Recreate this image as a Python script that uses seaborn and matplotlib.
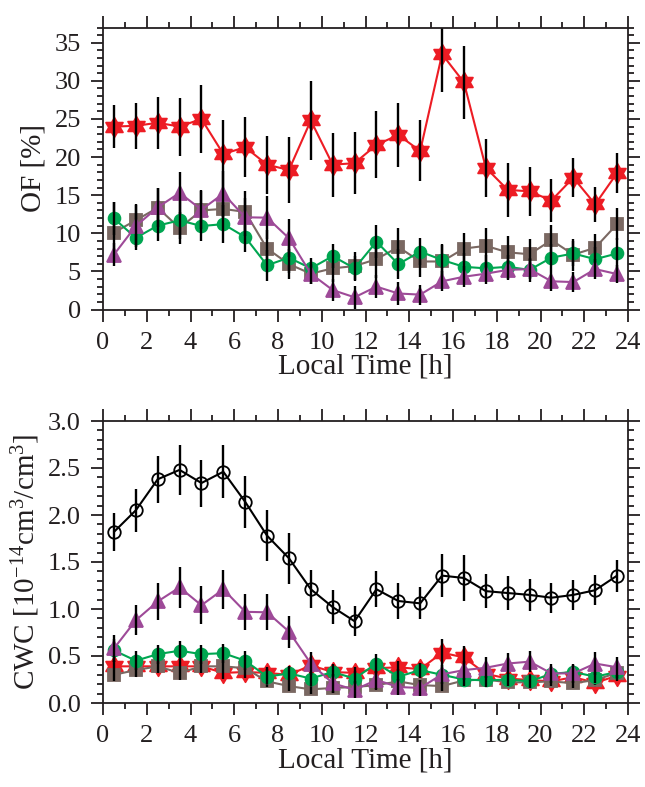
import numpy as np
import pandas as pd
import matplotlib
matplotlib.use("Agg")
import matplotlib.pyplot as plt
from matplotlib.ticker import MultipleLocator, FormatStrFormatter
from matplotlib.path import Path
import seaborn as sns

# ---------------- data ----------------
hours = [0.5, 1.5, 2.5, 3.5, 4.5, 5.5, 6.5, 7.5, 8.5, 9.5, 10.5, 11.5,
         12.5, 13.5, 14.5, 15.5, 16.5, 17.5, 18.5, 19.5, 20.5, 21.5, 22.5, 23.5]

# Top panel: occurrence frequency OF [%]
of_red = [24.0, 24.1, 24.5, 24.0, 25.0, 20.4, 21.3, 19.0, 18.3, 24.8, 19.0, 19.2,
          21.6, 22.9, 20.8, 33.5, 29.8, 18.6, 15.7, 15.5, 14.3, 17.3, 13.8, 17.9]
of_red_err = [2.8, 3.0, 3.4, 3.8, 4.5, 4.5, 3.9, 3.8, 4.3, 5.2, 4.2, 4.1,
              4.4, 4.2, 4.0, 5.0, 4.8, 3.8, 3.5, 3.2, 2.8, 2.6, 2.3, 2.6]
of_brown = [10.1, 11.7, 13.35, 10.7, 13.0, 13.2, 12.8, 8.0, 5.95, 4.7, 5.4, 5.7,
            6.6, 8.2, 6.3, 6.3, 8.0, 8.35, 7.5, 7.25, 9.1, 7.2, 8.1, 11.2]
of_brown_err = [4.0, 2.1, 2.6, 2.1, 2.6, 2.8, 2.7, 2.4, 2.0, 1.3, 1.8, 1.8,
                2.5, 2.5, 2.0, 2.3, 2.0, 2.3, 2.1, 2.0, 2.0, 2.1, 1.8, 2.1]
of_green = [11.95, 9.4, 11.0, 11.7, 10.95, 11.2, 9.5, 5.8, 6.8, 5.4, 7.0, 5.4,
            8.9, 5.95, 7.6, 6.5, 5.6, 5.4, 5.6, 5.2, 6.8, 7.35, 6.6, 7.35]
of_green_err = [2.2, 1.6, 2.0, 2.5, 2.0, 2.5, 2.0, 2.0, 2.0, 1.4, 1.6, 1.6,
                2.2, 2.0, 1.8, 2.0, 1.8, 1.8, 1.6, 1.6, 1.8, 1.6, 1.6, 2.0]
of_purple = [7.2, 10.95, 13.4, 15.3, 13.1, 15.2, 12.1, 12.05, 9.35, 4.7, 2.55, 1.6,
             3.0, 2.1, 1.95, 3.7, 4.3, 4.7, 5.2, 5.3, 3.7, 3.6, 5.3, 4.65]
of_purple_err = [1.5, 2.8, 2.6, 2.8, 2.6, 3.0, 2.5, 2.8, 2.5, 1.3, 1.5, 1.5,
                 1.5, 1.5, 1.3, 1.3, 1.4, 1.4, 1.3, 1.3, 1.3, 1.3, 1.3, 1.2]

# Bottom panel: cloud water content CWC
cwc_black = [1.82, 2.05, 2.38, 2.48, 2.34, 2.46, 2.14, 1.78, 1.54, 1.21, 1.02, 0.87,
             1.21, 1.085, 1.06, 1.355, 1.33, 1.19, 1.17, 1.15, 1.12, 1.15, 1.2, 1.355]
cwc_black_err = [0.2, 0.23, 0.25, 0.27, 0.25, 0.28, 0.28, 0.27, 0.27, 0.2, 0.18, 0.16,
                 0.19, 0.19, 0.17, 0.23, 0.24, 0.18, 0.18, 0.17, 0.16, 0.16, 0.16, 0.17]
cwc_purple = [0.58, 0.88, 1.08, 1.23, 1.04, 1.21, 0.97, 0.965, 0.76, 0.42, 0.21, 0.14,
              0.245, 0.17, 0.16, 0.305, 0.35, 0.375, 0.42, 0.44, 0.315, 0.315, 0.42, 0.38]
cwc_purple_err = [0.14, 0.16, 0.2, 0.22, 0.2, 0.21, 0.19, 0.19, 0.17, 0.12, 0.1, 0.09,
                  0.1, 0.09, 0.09, 0.1, 0.1, 0.11, 0.11, 0.11, 0.1, 0.1, 0.12, 0.11]
cwc_green = [0.56, 0.45, 0.52, 0.556, 0.52, 0.53, 0.45, 0.28, 0.315, 0.26, 0.33, 0.26,
             0.42, 0.28, 0.35, 0.30, 0.25, 0.24, 0.25, 0.23, 0.31, 0.33, 0.28, 0.33]
cwc_green_err = [0.12, 0.1, 0.1, 0.1, 0.1, 0.1, 0.1, 0.08, 0.08, 0.08, 0.08, 0.08,
                 0.1, 0.08, 0.08, 0.08, 0.07, 0.07, 0.07, 0.07, 0.07, 0.07, 0.07, 0.08]
cwc_red = [0.39, 0.39, 0.39, 0.39, 0.39, 0.32, 0.33, 0.32, 0.30, 0.40, 0.33, 0.32,
           0.37, 0.38, 0.36, 0.535, 0.485, 0.31, 0.26, 0.245, 0.23, 0.275, 0.215, 0.29]
cwc_red_err = [0.06, 0.06, 0.07, 0.07, 0.07, 0.06, 0.06, 0.06, 0.06, 0.08, 0.06, 0.06,
               0.07, 0.07, 0.07, 0.15, 0.12, 0.07, 0.06, 0.06, 0.05, 0.06, 0.05, 0.06]
cwc_brown = [0.30, 0.35, 0.39, 0.32, 0.39, 0.39, 0.37, 0.23, 0.18, 0.145, 0.16, 0.17,
             0.19, 0.23, 0.19, 0.18, 0.24, 0.25, 0.22, 0.22, 0.23, 0.21, 0.245, 0.32]
cwc_brown_err = [0.07, 0.07, 0.07, 0.07, 0.07, 0.07, 0.07, 0.06, 0.05, 0.05, 0.05, 0.05,
                 0.05, 0.05, 0.05, 0.05, 0.05, 0.05, 0.05, 0.05, 0.05, 0.05, 0.05, 0.06]

xticks = [0, 2, 4, 6, 8, 10, 12, 14, 16, 18, 20, 22, 24]
of_yticks = [0, 5, 10, 15, 20, 25, 30, 35]
cwc_yticks = [0.0, 0.5, 1.0, 1.5, 2.0, 2.5, 3.0]

# ---------------- style ----------------
RED = "#ED1C24"
GREEN = "#00A651"
BROWN = "#7A6862"
PURPLE = "#9E4A98"
TXT = "#231F20"

sns.set_theme(style="ticks")
plt.rcParams["font.family"] = ["Liberation Serif", "DejaVu Serif"]
plt.rcParams["mathtext.fontset"] = "custom"
plt.rcParams["mathtext.rm"] = "Liberation Serif"
plt.rcParams["mathtext.it"] = "Liberation Serif:italic"
plt.rcParams["text.color"] = TXT
plt.rcParams["axes.labelcolor"] = TXT
plt.rcParams["xtick.color"] = TXT
plt.rcParams["ytick.color"] = TXT
plt.rcParams["axes.edgecolor"] = TXT

TICK_FS = 19
LAB_FS = 21
W, H = 645, 787
fig = plt.figure(figsize=(W / 100, H / 100), dpi=100)
L = 103 / W
AW = (628 - 103) / W
AH = 282 / H
ax1 = fig.add_axes([L, 1 - 309.5 / H, AW, AH])
ax2 = fig.add_axes([L, 1 - 703 / H, AW, AH])

# six-pointed star (hexagram) marker
_ang = np.pi / 2 + np.arange(12) * np.pi / 6
_rad = np.where(np.arange(12) % 2 == 0, 1.0, 1 / np.sqrt(3))
_verts = np.column_stack([_rad * np.cos(_ang), _rad * np.sin(_ang)])
_verts = np.vstack([_verts, _verts[:1]])
hexagram = Path(_verts, [Path.MOVETO] + [Path.LINETO] * 11 + [Path.CLOSEPOLY])


def series(ax, y, err, color, marker, ms, mfc=None, mec=None, z=2):
    sns.lineplot(x=hours, y=y, ax=ax, color=color, marker=marker, markersize=ms,
                 markerfacecolor=mfc if mfc is not None else color,
                 markeredgecolor=mec if mec is not None else color,
                 markeredgewidth=1.3, linewidth=1.5, zorder=z, legend=False)
    ax.errorbar(hours, y, yerr=err, fmt="none", ecolor="black", elinewidth=1.7,
                capsize=0, zorder=z + 0.5)


# Top panel
series(ax1, of_red, of_red_err, RED, hexagram, 14, z=2)
series(ax1, of_brown, of_brown_err, BROWN, "s", 8.5, z=3)
series(ax1, of_green, of_green_err, GREEN, "o", 8.5, z=4)
series(ax1, of_purple, of_purple_err, PURPLE, "^", 10, z=5)

# Bottom panel
series(ax2, cwc_red, cwc_red_err, RED, hexagram, 14, z=2)
series(ax2, cwc_brown, cwc_brown_err, BROWN, "s", 8.5, z=3)
series(ax2, cwc_green, cwc_green_err, GREEN, "o", 8.5, z=4)
series(ax2, cwc_purple, cwc_purple_err, PURPLE, "^", 10, z=5)
series(ax2, cwc_black, cwc_black_err, "black", "o", 9, mfc="none", mec="black", z=6)

for ax in (ax1, ax2):
    ax.set_xlim(0, 24)
    ax.set_xticks(xticks)
    ax.xaxis.set_minor_locator(MultipleLocator(1))
    ax.tick_params(which="both", direction="out", top=True, right=True,
                   labelsize=TICK_FS, width=1.3, colors=TXT)
    ax.tick_params(which="major", length=8.4, pad=7.5)
    ax.tick_params(which="minor", length=4.2)
    for s in ax.spines.values():
        s.set_linewidth(1.3)
        s.set_visible(True)
    ax.set_xlabel("Local Time [h]", fontsize=LAB_FS, labelpad=0)

ax1.set_ylim(0, 37)
ax1.set_yticks(of_yticks)
ax1.yaxis.set_minor_locator(MultipleLocator(1))
ax1.set_ylabel("OF [%]", fontsize=LAB_FS, labelpad=6)

ax2.set_ylim(0, 3.0)
ax2.set_yticks(cwc_yticks)
ax2.yaxis.set_major_formatter(FormatStrFormatter("%.1f"))
ax2.yaxis.set_minor_locator(MultipleLocator(0.1))
ax2.set_ylabel(r"CWC [10$^{\mathregular{-14}}$cm$^{\mathregular{3}}$/cm$^{\mathregular{3}}$]",
               fontsize=LAB_FS, labelpad=4)

fig.savefig("out.png", dpi=100)
